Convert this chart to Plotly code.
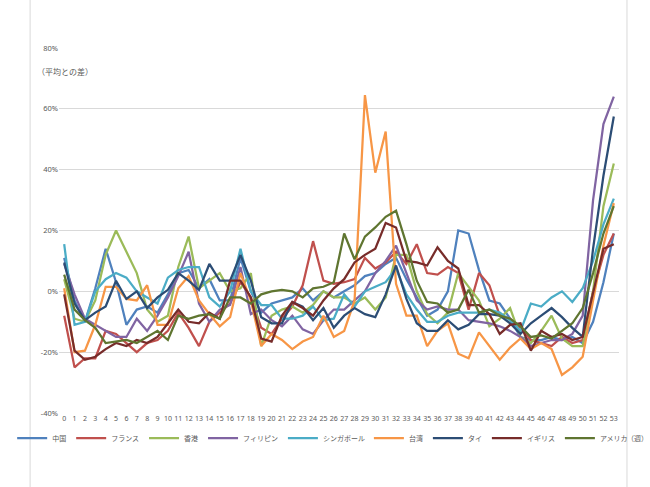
import plotly.graph_objects as go

weeks = list(range(54))
tick_labels = [str(w) for w in weeks]
y_ticks = [-40, -20, 0, 20, 40, 60, 80]
y_tick_labels = ["-40%", "-20%", "0%", "20%", "40%", "60%", "80%"]

names = ["中国", "フランス", "香港", "フィリピン", "シンガポール", "台湾", "タイ", "イギリス", "アメリカ"]
colors = ["#4F81BD", "#C0504D", "#9BBB59", "#8064A2", "#4BACC6", "#F79646", "#2C4D75", "#772C2A", "#5F7530"]

china = [11, -3, -10, 1, 14, 3, -11, -6, -5, -7, -1, 6, 7, 1, 4, -3, -3, 11, 0, -7,
         -4, -3, -2, 1, -3, 0, -2, 0, 2, 5, 6, 9, 11, 4, -2, -8, -6, 0, 20, 19,
         7, -3, -4, -9, -15, -16, -16, -15, -16, -15, -17, -10, 3, 19]
france = [-8, -25, -22, -22, -13, -14, -17, -20, -17, -16, -13, -7, -12, -18, -10, -7, -4, 3, -2, -12,
          -14, -9, -5, 2, 16.5, 3.5, 2.5, 3, 4, 11, 7.5, 9.5, 13, 9, 15.5, 6, 5.5, 8, 6, -6,
          6, 2, -8, -9, -12, -16, -17, -18, -15, -17, -16, 0, 12, 19]
hongkong = [4, -9, -10, -3, 12, 20, 13, 6, -6, -10, -8, 8, 18, 1, 3.5, 6, 0, 1, 6, -18,
            -8, -6, -5, -7, -4.5, 0, -2, -2, -4, -2, -6, -2, 12, 12, 0, -7.5, -10.5, -7, 6, 1.5,
            -3, -11.5, -9, -5.5, -15, -17, -13, -8, -15.5, -18, -18, 0, 28, 42]
philippines = [9, -1, -9, -11, -13, -15, -15, -9, -13, -8, -2, 5, 13, -4, -10, -6, -4.5, 8, -7.5, -6,
               -9.5, -11.5, -8, -12.5, -14, -9.5, -6, -6, -3, 0, 6, 10, 15, 6, -3, -6, -5, -6, -6, -9.5,
               -10, -10.5, -11.5, -13, -15, -18, -17, -16, -16, -14, -8, 30, 55, 64]
singapore = [15.5, -11, -10, 0, 4, 6, 4.5, 0, -2, -4, 4.5, 7, 8, 8, -2, -5, 0, 14, 0, -4.5,
             -4.5, -9, -9, -8, -5, -9.5, -9, -1, -5, 0, 1.5, 3, 7.5, -1, -6, -10, -10, -8, -7, -7,
             -7, -6, -7, -9.5, -13, -4, -5, -2, 0, -3.5, 1, 10, 22, 30.5]
taiwan = [1, -20, -19.5, -11, 1.5, 1.5, -2.5, -3, 2, -11, -11, 1, 5, -3, -7.5, -11.5, -8.5, 6, -3, -18,
          -14, -16, -19, -16.5, -15, -8, -15, -13, -3, 64.5, 39, 52.5, 2.5, -8, -8, -18, -13, -10.5, -20.5, -22,
          -13.5, -18, -22.5, -18.5, -15.5, -19, -17, -19, -27.5, -25, -21.5, -3, 15, 29]
thailand = [9.5, -4, -9.5, -7, -5, 3.5, -2.5, 0, -5.5, -2, 0.5, 6, 3.5, 0.5, 9, 3.5, 3.5, 12, 3.5, -8.5,
            -10.5, -10.5, -3.5, -5, -9.5, -5.5, -12, -8, -5.5, -7.5, -8.5, -1, 8.5, -2.5, -10.5, -13, -13, -9.5, -12.5, -11,
            -7.5, -7.5, -8, -10.5, -14, -10.5, -8, -5.5, -8.5, -12, -15, 14, 38, 57.5]
uk = [-1, -19.5, -22.5, -21.5, -19, -17, -18, -16, -17, -15, -10.5, -6, -10, -10.5, -7, -9, 3.5, 3.5, -2, -15.5,
      -16.5, -8, -3.5, -5.5, -8, -3, 1, 4, 9.5, 12, 14, 22.5, 21, 10, 9.5, 8.5, 14.5, 10, 7.5, -4.5,
      -4.5, -7.5, -14, -11, -10.5, -19.5, -13, -15, -14, -16, -15, 0, 14, 15.5]
usa = [5.5, -6, -9.5, -12, -17, -16.5, -16, -17, -15, -13, -16, -8, -9, -8, -7.5, -9, -2, -2, -4, -1,
       0, 0.5, 0, -2, 1, 1.5, 3, 19, 10.5, 18, 21, 24.5, 26.5, 15.5, 3.5, -3.5, -4, -7, -6, 0.5,
       -7, -6, -8, -9, -11.5, -15, -14.5, -15.5, -13, -10.5, -5.5, 6, 19, 28]

series = [china, france, hongkong, philippines, singapore, taiwan, thailand, uk, usa]

FONT = "Noto Sans CJK JP"
GREY = "#595959"

# plot area in pixels (for converting legend placement to paper coords)
L, R, T, B = 57, 31, 48, 74
PW = 650 - L - R
PH = 487 - T - B


def px_x(p):
    return (p - L) / PW


def px_y(p):
    return (487 - B - p) / PH


fig = go.Figure()
for i, (name, color, vals) in enumerate(zip(names, colors, series)):
    fig.add_trace(go.Scatter(
        x=weeks, y=vals, name=name, mode="lines",
        line=dict(color=color, width=2.25),
        legend="legend" if i < 5 else "legend2",
    ))

legend_common = dict(orientation="h", yanchor="middle", xanchor="left",
                     font=dict(size=7, color=GREY, family=FONT), itemwidth=30,
                     bgcolor="rgba(0,0,0,0)", borderwidth=0, traceorder="normal")

fig.update_layout(
    width=650, height=487,
    margin=dict(l=L, r=R, t=T, b=B),
    paper_bgcolor="white", plot_bgcolor="white",
    font=dict(family=FONT, size=8, color=GREY),
    showlegend=True,
    legend=dict(x=px_x(10), y=px_y(438), **legend_common),
    legend2=dict(x=px_x(368), y=px_y(438), **legend_common),
    xaxis=dict(range=[-0.5, 53.5], tickmode="array", tickvals=weeks, ticktext=tick_labels,
               tickangle=0, showgrid=False, zeroline=False, showline=False, ticks="",
               tickfont=dict(size=7, color=GREY, family="Noto Sans")),
    yaxis=dict(range=[-40, 80], tickmode="array", tickvals=y_ticks, ticktext=y_tick_labels,
               showgrid=True, gridcolor="#d9d9d9", gridwidth=1,
               zeroline=True, zerolinecolor="#d9d9d9", zerolinewidth=1,
               showline=False, ticks="", tickfont=dict(size=7.5, color=GREY, family="Noto Sans")),
    shapes=[dict(type="rect", xref="paper", yref="paper", x0=px_x(28), x1=px_x(627),
                 y0=px_y(520), y1=px_y(-30),
                 line=dict(color="#d9d9d9", width=1), fillcolor="rgba(0,0,0,0)", layer="below")],
    annotations=[
        dict(text="（平均との差）", xref="paper", yref="paper", x=px_x(33), y=px_y(72),
             xanchor="left", yanchor="middle", showarrow=False, font=dict(size=8, color=GREY)),
        dict(text="（週）", xref="paper", yref="paper", x=px_x(638), y=px_y(438),
             xanchor="center", yanchor="middle", showarrow=False, font=dict(size=7, color=GREY)),
    ],
)

fig.write_html("out.html")
